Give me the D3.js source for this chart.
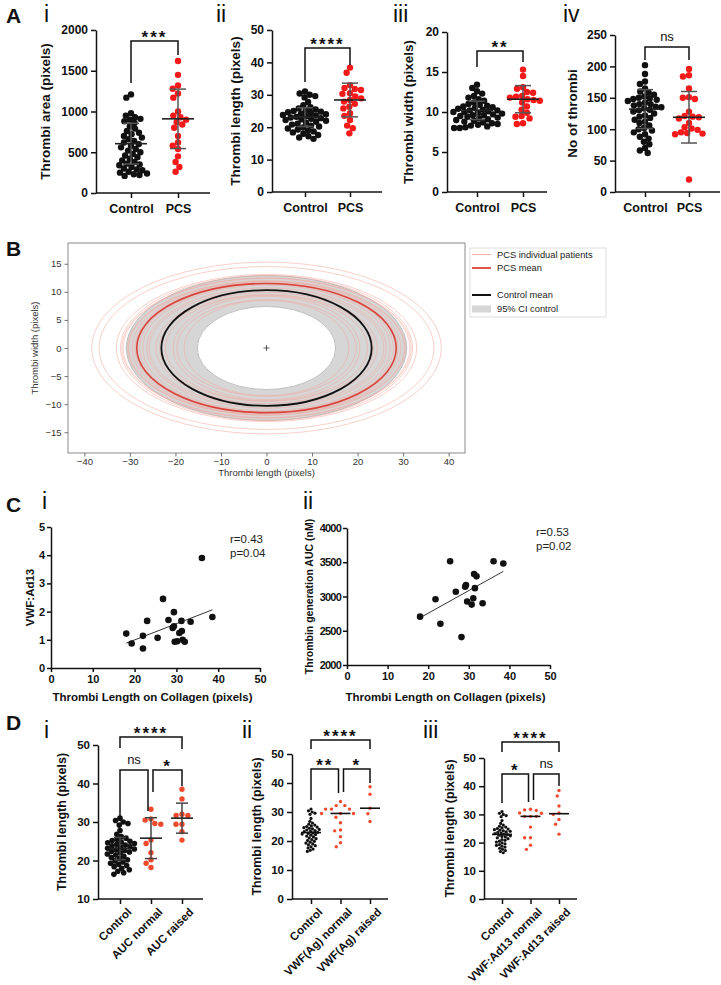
<!DOCTYPE html>
<html><head><meta charset="utf-8">
<script src="https://cdn.jsdelivr.net/npm/d3@7"></script>
<style>
body{margin:0;background:#fff}
svg{display:block}
text{font-family:"Liberation Sans",Arial,sans-serif}
</style>
</head><body>
<svg id="c" width="721" height="985"></svg>
<script>
// ===================== DATA =====================
// Panel A
const groupsA = ["Control", "PCS"];
const controlArea = [1210,1170,980,950,930,910,900,880,860,820,790,760,740,720,700,680,660,640,620,600,580,560,540,520,500,480,460,440,420,400,380,360,350,340,320,300,290,280,260,250,240,230,220,210];
const pcsArea = [1620,1450,1320,1280,1220,1170,1000,950,930,900,870,840,800,700,620,580,540,450,380,320,260];
const controlLength = [31.0,30.4,30.0,29.6,29.2,27.8,26.8,26.2,25.8,25.5,25.2,25.0,24.8,24.6,24.4,24.2,24.0,23.8,23.6,23.4,23.2,23.0,22.8,22.6,22.4,22.2,22.0,21.7,21.4,21.1,20.8,20.5,20.2,19.9,19.6,19.3,19.0,18.7,18.4,18.0,17.6,17.2,16.8,16.4];
const pcsLength = [38.4,36.8,33.0,32.1,31.8,31.5,30.5,30.3,29.5,28.9,28.4,27.9,27.2,26.3,25.8,24.3,23.5,22.2,20.5,19.7,18.1];
const controlWidth = [13.4,13.0,12.6,12.3,12.0,11.8,11.6,11.4,11.2,11.0,10.9,10.8,10.7,10.6,10.5,10.4,10.3,10.2,10.1,10.0,10.0,9.9,9.8,9.7,9.6,9.5,9.4,9.3,9.2,9.1,9.0,8.9,8.8,8.7,8.6,8.5,8.4,8.3,8.2,8.1,8.0,8.0,9.6,10.2];
const pcsWidth = [15.3,14.5,13.1,12.9,12.5,12.4,12.0,11.9,11.8,11.6,11.5,11.4,11.2,10.7,10.3,9.9,9.5,9.4,9.2,8.6,8.5];
const controlCount = [202,188,176,172,165,160,158,155,152,150,149,148,147,145,142,140,138,136,135,133,131,130,128,125,122,120,118,115,112,110,106,102,100,98,95,92,88,85,80,76,70,66,62,140];
const pcsCount = [196,186,184,165,151,150,148,128,121,120,119,117,110,103,101,99,95,94,93,92,20];
const areaMean = [605, 910], areaSD = [250, 365];
const lengthMean = [23.1, 28.4], lengthSD = [2.9, 5.2];
const widthMean = [10.2, 11.6], widthSD = [1.15, 1.7];
const countMean = [132, 119], countSD = [31, 41];
const sigA = ["***", "****", "**", "ns"];
const ticksArea = [0,500,1000,1500,2000];
const ticksLength = [0,10,20,30,40,50];
const ticksWidth = [0,5,10,15,20];
const ticksCount = [0,50,100,150,200,250];

// Panel B (ellipse semi-axes: [length, width])
const controlEllipse = [23.1, 10.3];
const ciOuter = [30.8, 12.9];
const ciInner = [15.2, 7.4];
const pcsMeanEllipse = [28.5, 11.5];
const ellipseTicksX = [-40,-30,-20,-10,0,10,20,30,40];
const ellipseTicksY = [-15,-10,-5,0,5,10,15];
const legendLabels = ["PCS individual patients", "PCS mean", "Control mean", "95% CI control"];

// Panel C
const c1Length = [18.0,19.3,22.0,22.0,23.0,25.5,26.8,28.1,29.1,29.4,29.4,29.6,30.2,30.7,31.2,31.3,31.5,32.0,33.4,36.1,38.6];
const c1Vwf = [1.22,0.87,1.14,0.69,1.67,1.07,2.45,1.70,1.42,1.48,1.98,0.93,0.95,1.24,1.67,1.31,1.00,0.93,1.64,3.90,1.81];
const c2Length = [18.0,21.8,23.0,25.4,26.8,28.2,29.1,29.3,29.6,30.7,31.1,31.3,31.5,31.9,33.4,36.1,38.5];
const c2Auc = [2706,2960,2603,3515,3069,2407,3143,3167,2926,2882,2975,3328,3122,3294,2901,3515,3481];
const c1Stats = ["r=0.43", "p=0.04"];
const c2Stats = ["r=0.53", "p=0.02"];
const ticksC1Y = [0,1,2,3,4,5];
const ticksC2Y = [2000,2500,3000,3500,4000];
const ticksCX = [0,10,20,30,40,50];

// Panel D
const d1Groups = ["Control", "AUC normal", "AUC raised"];
const aucNormal = [33.3,30.8,30.5,29.6,29.4,25.3,24.4,22.0,20.2,19.3,18.2];
const aucRaised = [38.5,36.0,31.7,31.7,32.0,29.4,29.4,27.5,25.3];
const d1Mean = [23.1, 25.8, 31.0], d1SD = [2.9, 5.3, 3.9];
const d2Groups = ["Control", "VWF(Ag) normal", "VWF(Ag) raised"];
const vwfAgNormal = [33.6,32.2,32.2,31.0,31.0,31.0,29.5,29.5,29.5,28.2,26.3,23.8,23.5,21.5,19.4,18.0];
const vwfAgRaised = [38.7,36.1,31.3,29.4,26.7];
const d3Groups = ["Control", "VWF:Ad13 normal", "VWF:Ad13 raised"];
const vwfAd13Normal = [31.8,31.6,31.4,30.5,30.4,29.3,29.3,29.3,25.5,21.7,21.7,19.1,17.6];
const vwfAd13Raised = [38.5,36.5,33.0,30.5,30.0,28.2,26.5,23.0];
const d1Sig = ["****", "ns", "*"];
const d2Sig = ["****", "**", "*"];
const d3Sig = ["****", "*", "ns"];
const ticksD1 = [10,20,30,40,50];
const ticksD = [0,10,20,30,40,50];

// ===================== DRAWING =====================
const svg = d3.select("#c");
const RED_A = "#f41a1a", RED_D = "#f04a2e";

function label(x, y, t, size, weight) {
  svg.append("text").attr("x", x).attr("y", y).attr("font-size", size)
    .attr("font-weight", weight || "normal").attr("fill", "#111").text(t);
}
[["A",6,23],["B",6,256],["C",6,512],["D",6,730]].forEach(d => label(d[1], d[2], d[0], 21, "bold"));
[["i",44,22],["ii",216,22],["iii",393,22],["iv",563,22],
 ["i",42,509],["ii",303,509],["i",44,738],["ii",242,738],["iii",423,738]].forEach(d => label(d[1], d[2], d[0], 23, "normal"));

function beeswarm(vals, y, r, gap) {
  const D = 2 * r + gap;
  const placed = [];
  const order = vals.map(v => ({ v, y: y(v) })).sort((a, b) => a.y - b.y);
  for (const p of order) {
    const near = placed.filter(q => Math.abs(q.y - p.y) < D);
    const cands = [0];
    near.forEach(q => { const dx = Math.sqrt(D * D - (q.y - p.y) ** 2); cands.push(q.x + dx, q.x - dx); });
    cands.sort((a, b) => Math.abs(a) - Math.abs(b) || a - b);
    let best = 0;
    for (const c of cands) {
      if (near.every(q => (q.x - c) ** 2 + (q.y - p.y) ** 2 >= D * D - 0.01)) { best = c; break; }
    }
    p.x = best; placed.push(p);
  }
  return placed;
}

function styleAxis(g, size) {
  g.selectAll("path,line").attr("stroke", "#111").attr("stroke-width", 1.5);
  g.selectAll("text").attr("font-size", size).attr("font-weight", "bold").attr("fill", "#111")
    .attr("font-family", "'Liberation Sans',Arial,sans-serif");
}

function bracket(g, x1, x2, yTop, yL, yR, lab) {
  g.append("path").attr("d", `M${x1},${yL}V${yTop}H${x2}V${yR}`)
    .attr("fill", "none").attr("stroke", "#111").attr("stroke-width", 1.5);
  const isStar = lab.indexOf("*") >= 0;
  g.append("text").attr("x", (x1 + x2) / 2).attr("y", isStar ? yTop + 2 : yTop - 6)
    .attr("text-anchor", "middle").attr("font-size", isStar ? 17 : 13)
    .attr("font-weight", isStar ? "bold" : "normal").attr("letter-spacing", isStar ? 2 : 0)
    .attr("fill", "#111").text(lab);
}

function dotPanel(cfg) {
  const g = svg.append("g");
  const y = d3.scaleLinear().domain(cfg.domain).range([cfg.bottom, cfg.top]);
  const x = d3.scalePoint().domain(cfg.cats).range(cfg.catRange);
  const ya = g.append("g").attr("transform", `translate(${cfg.left},0)`)
    .call(d3.axisLeft(y).tickValues(cfg.ticks).tickSize(5).tickSizeOuter(0).tickPadding(3).tickFormat(d3.format("d")));
  styleAxis(ya, cfg.tickFont);
  g.append("line").attr("x1", cfg.left).attr("x2", cfg.right).attr("y1", cfg.bottom).attr("y2", cfg.bottom)
    .attr("stroke", "#111").attr("stroke-width", 1.5);
  const xa = g.append("g").attr("transform", `translate(0,${cfg.bottom})`)
    .call(d3.axisBottom(x).tickSize(5).tickSizeOuter(0).tickPadding(6));
  xa.select(".domain").remove();
  styleAxis(xa, cfg.catFont);
  if (cfg.rotate) {
    xa.selectAll("text").attr("text-anchor", "end").attr("dy", null)
      .attr("transform", "translate(4,6) rotate(-45)");
  }
  g.append("text").attr("transform", `translate(${cfg.titleX},${(cfg.top + cfg.bottom) / 2}) rotate(-90)`)
    .attr("text-anchor", "middle").attr("font-size", cfg.titleFont).attr("font-weight", "bold")
    .attr("fill", "#111").text(cfg.title);
  cfg.series.forEach((s, i) => {
    const cx = x(cfg.cats[i]);
    const pts = beeswarm(s.vals, y, s.r, s.gap);
    g.append("g").selectAll("circle").data(pts).join("circle")
      .attr("cx", d => cx + d.x).attr("cy", d => d.y).attr("r", s.r).attr("fill", s.color);
  });
  cfg.cats.forEach((c, i) => {
    const cx = x(c);
    if (cfg.mean) {
      const m = cfg.mean[i], sd = cfg.sd[i];
      const sg = g.append("g").attr("stroke", cfg.barColor).attr("stroke-width", 1.5);
      sg.append("line").attr("x1", cx).attr("x2", cx).attr("y1", y(m - sd)).attr("y2", y(m + sd));
      sg.append("line").attr("x1", cx - cfg.capHalf).attr("x2", cx + cfg.capHalf).attr("y1", y(m + sd)).attr("y2", y(m + sd));
      sg.append("line").attr("x1", cx - cfg.capHalf).attr("x2", cx + cfg.capHalf).attr("y1", y(m - sd)).attr("y2", y(m - sd));
      sg.append("line").attr("x1", cx - cfg.meanHalf).attr("x2", cx + cfg.meanHalf).attr("y1", y(m)).attr("y2", y(m))
        .attr("stroke", "#222").attr("stroke-width", 1.6);
    } else {
      const md = d3.median(cfg.series[i].vals);
      g.append("line").attr("x1", cx - cfg.meanHalf).attr("x2", cx + cfg.meanHalf).attr("y1", y(md)).attr("y2", y(md))
        .attr("stroke", "#111").attr("stroke-width", 1.6);
    }
  });
  cfg.brackets.forEach((b, i) => bracket(g, x(cfg.cats[b.a]) + (b.dxa || 0), x(cfg.cats[b.b]) + (b.dxb || 0), b.top, b.yL, b.yR, cfg.sig[i]));
}

// ---------- Panel A ----------
const aCommon = { tickFont: 12, catFont: 12.5, titleFont: 13.5, capHalf: 8, meanHalf: 16, barColor: "#555", cats: groupsA };
const blk = (v) => ({ vals: v, color: "#111", r: 3.2, gap: -0.7 });
const redA = (v) => ({ vals: v, color: RED_A, r: 3.2, gap: -0.2 });
dotPanel({ ...aCommon, left: 96, right: 210, top: 30, bottom: 193, domain: [0, 2000], ticks: ticksArea, catRange: [131, 178],
  titleX: 50, title: "Thrombi area (pixels)", series: [blk(controlArea), redA(pcsArea)], mean: areaMean, sd: areaSD,
  sig: [sigA[0]], brackets: [{ a: 0, b: 1, top: 41, yL: 83, yR: 55 }] });
dotPanel({ ...aCommon, left: 272, right: 382, top: 30, bottom: 192, domain: [0, 50], ticks: ticksLength, catRange: [305, 350],
  titleX: 240, title: "Thrombi length (pixels)", series: [blk(controlLength), redA(pcsLength)], mean: lengthMean, sd: lengthSD,
  sig: [sigA[1]], brackets: [{ a: 0, b: 1, top: 48, yL: 82, yR: 65 }] });
dotPanel({ ...aCommon, left: 447, right: 547, top: 32, bottom: 192, domain: [0, 20], ticks: ticksWidth, catRange: [477, 523],
  titleX: 413, title: "Thrombi width (pixels)", series: [blk(controlWidth), redA(pcsWidth)], mean: widthMean, sd: widthSD,
  sig: [sigA[2]], brackets: [{ a: 0, b: 1, top: 51, yL: 67, yR: 62 }] });
dotPanel({ ...aCommon, left: 615, right: 720, top: 35, bottom: 192, domain: [0, 250], ticks: ticksCount, catRange: [645, 689],
  titleX: 577, title: "No of thrombi", series: [blk(controlCount), redA(pcsCount)], mean: countMean, sd: countSD,
  sig: [sigA[3]], brackets: [{ a: 0, b: 1, top: 47, yL: 60, yR: 60 }] });

// ---------- Panel B ----------
(function () {
  const L = 68, R = 465, T = 243, B = 453;
  const bx = d3.scaleLinear().domain([-43.6, 43.6]).range([L, R]);
  const by = d3.scaleLinear().domain([-18.7, 18.7]).range([B, T]);
  const g = svg.append("g");
  const cx = bx(0), cy = by(0);
  const rxOf = a => bx(a) - bx(0), ryOf = b => by(0) - by(b);
  const ell = (a, b) => { const rx = rxOf(a), ry = ryOf(b);
    return `M${cx - rx},${cy}a${rx},${ry} 0 1,0 ${2 * rx},0a${rx},${ry} 0 1,0 ${-2 * rx},0Z`; };
  g.append("defs").append("clipPath").attr("id", "clipB").append("rect")
    .attr("x", L).attr("y", T).attr("width", R - L).attr("height", B - T);
  const pg = g.append("g").attr("clip-path", "url(#clipB)");
  pg.append("path").attr("d", ell(ciOuter[0], ciOuter[1]) + ell(ciInner[0], ciInner[1]))
    .attr("fill-rule", "evenodd").attr("fill", "#d6d6d6").attr("stroke", "#b4b4b4").attr("stroke-width", 0.8);
  pg.append("g").selectAll("path").data(d3.range(pcsLength.length)).join("path")
    .attr("d", i => ell(pcsLength[i], pcsWidth[i]))
    .attr("fill", "none").attr("stroke", "#f2a79f").attr("stroke-opacity", 0.6).attr("stroke-width", 0.9);
  pg.append("path").attr("d", ell(pcsMeanEllipse[0], pcsMeanEllipse[1])).attr("fill", "none")
    .attr("stroke", "#d8433b").attr("stroke-width", 1.6);
  pg.append("path").attr("d", ell(controlEllipse[0], controlEllipse[1])).attr("fill", "none")
    .attr("stroke", "#111").attr("stroke-width", 1.8);
  pg.append("path").attr("d", `M${cx - 3},${cy}H${cx + 3}M${cx},${cy - 3}V${cy + 3}`).attr("stroke", "#333").attr("stroke-width", 0.8);
  g.append("rect").attr("x", L).attr("y", T).attr("width", R - L).attr("height", B - T)
    .attr("fill", "none").attr("stroke", "#8a8a8a").attr("stroke-width", 1);
  const st = (sel) => { sel.select(".domain").remove();
    sel.selectAll("line").attr("stroke", "#555").attr("stroke-width", 0.8);
    sel.selectAll("text").attr("font-size", 9.5).attr("fill", "#333").attr("font-family", "'DejaVu Sans',sans-serif"); };
  g.append("g").attr("transform", `translate(${L},0)`)
    .call(d3.axisLeft(by).tickValues(ellipseTicksY).tickSize(3.5).tickPadding(3)).call(st);
  g.append("g").attr("transform", `translate(0,${B})`)
    .call(d3.axisBottom(bx).tickValues(ellipseTicksX).tickSize(3.5).tickPadding(2)).call(st);
  g.append("text").attr("transform", `translate(38,${(T + B) / 2}) rotate(-90)`).attr("text-anchor", "middle")
    .attr("font-size", 9.5).attr("fill", "#333").attr("font-family", "'DejaVu Sans',sans-serif").text("Thrombi width (pixels)");
  g.append("text").attr("x", cx).attr("y", 476).attr("text-anchor", "middle")
    .attr("font-size", 9.5).attr("fill", "#333").attr("font-family", "'DejaVu Sans',sans-serif").text("Thrombi length (pixels)");
  const lg = g.append("g");
  lg.append("rect").attr("x", 470).attr("y", 248).attr("width", 136).attr("height", 69)
    .attr("fill", "#fff").attr("stroke", "#ddd").attr("stroke-width", 1);
  const rows = [254.5, 268, 295, 309];
  const sty = [["#f5b3ab", 1], ["#d8433b", 1.8], ["#111", 2]];
  sty.forEach((s, i) => lg.append("line").attr("x1", 472).attr("x2", 491).attr("y1", rows[i]).attr("y2", rows[i])
    .attr("stroke", s[0]).attr("stroke-width", s[1]));
  lg.append("rect").attr("x", 472).attr("y", rows[3] - 3.5).attr("width", 19).attr("height", 7).attr("fill", "#d6d6d6");
  legendLabels.forEach((t, i) => lg.append("text").attr("x", 497).attr("y", rows[i] + 3.3).attr("font-size", 9.3)
    .attr("fill", "#222").attr("font-family", "'DejaVu Sans',sans-serif").text(t));
})();

// ---------- Panel C ----------
function scatterPanel(cfg) {
  const g = svg.append("g");
  const x = d3.scaleLinear().domain([0, 50]).range([cfg.left, cfg.right]);
  const y = d3.scaleLinear().domain(cfg.ydom).range([cfg.bottom, cfg.top]);
  const ya = g.append("g").attr("transform", `translate(${cfg.left},0)`)
    .call(d3.axisLeft(y).tickValues(cfg.yticks).tickSize(4).tickSizeOuter(0).tickPadding(2).tickFormat(d3.format("d")));
  styleAxis(ya, 11);
  ya.selectAll("text").attr("letter-spacing", cfg.yLetter || 0);
  const xa = g.append("g").attr("transform", `translate(0,${cfg.bottom})`)
    .call(d3.axisBottom(x).tickValues(ticksCX).tickSize(4).tickSizeOuter(0).tickPadding(3));
  styleAxis(xa, 11);
  g.append("text").attr("x", (cfg.left + cfg.right) / 2 - 3).attr("y", 701).attr("text-anchor", "middle")
    .attr("font-size", 11.5).attr("font-weight", "bold").attr("fill", "#111").text("Thrombi Length on Collagen (pixels)");
  g.append("text").attr("transform", `translate(${cfg.titleX},${(cfg.top + cfg.bottom) / 2}) rotate(-90)`)
    .attr("text-anchor", "middle").attr("font-size", cfg.titleFont).attr("font-weight", "bold").attr("fill", "#111").text(cfg.title);
  const mx = d3.mean(cfg.xs), my = d3.mean(cfg.ys);
  let sxy = 0, sxx = 0;
  cfg.xs.forEach((v, i) => { sxy += (v - mx) * (cfg.ys[i] - my); sxx += (v - mx) ** 2; });
  const b = sxy / sxx, a0 = my - b * mx;
  const [x0, x1] = d3.extent(cfg.xs);
  g.append("line").attr("x1", x(x0)).attr("x2", x(x1)).attr("y1", y(a0 + b * x0)).attr("y2", y(a0 + b * x1))
    .attr("stroke", "#333").attr("stroke-width", 1);
  g.append("g").selectAll("circle").data(cfg.xs).join("circle")
    .attr("cx", d => x(d)).attr("cy", (d, i) => y(cfg.ys[i])).attr("r", 3.3).attr("fill", "#111");
  cfg.stats.forEach((t, i) => g.append("text").attr("x", cfg.statX).attr("y", cfg.statY + i * 13.5)
    .attr("font-size", 11.5).attr("fill", "#222").text(t));
}
scatterPanel({ left: 51, right: 260, top: 527, bottom: 668, ydom: [0, 5], yticks: ticksC1Y, titleX: 34, titleFont: 11.5, title: "VWF:Ad13",
  xs: c1Length, ys: c1Vwf, stats: c1Stats, statX: 230, statY: 543 });
scatterPanel({ left: 347, right: 550, top: 528, bottom: 665, ydom: [2000, 4000], yticks: ticksC2Y, titleX: 313, titleFont: 10.5,
  yLetter: -0.8, title: "Thrombin generation AUC (nM)", xs: c2Length, ys: c2Auc, stats: c2Stats, statX: 536, statY: 536 });

// ---------- Panel D ----------
const dCommon = { tickFont: 11.5, catFont: 11.5, titleFont: 12.5, rotate: true, barColor: "#444", capHalf: 6, meanHalf: 11 };
const blkD = (v) => ({ vals: v, color: "#111", r: 2.8, gap: -0.6 });
const redD = (v) => ({ vals: v, color: RED_D, r: 2.7, gap: 0.6 });
const blkS = (v) => ({ vals: v, color: "#111", r: 1.6, gap: -0.1 });
const redS = (v) => ({ vals: v, color: RED_D, r: 1.7, gap: 2.5 });
dotPanel({ ...dCommon, left: 98, right: 203, top: 745, bottom: 899, domain: [10, 50], ticks: ticksD1, catRange: [120, 182],
  cats: d1Groups, titleX: 66, title: "Thrombi length (pixels)", series: [blkD(controlLength), redD(aucNormal), redD(aucRaised)],
  mean: d1Mean, sd: d1SD, sig: d1Sig,
  brackets: [{ a: 0, b: 2, top: 737, yL: 748, yR: 749 }, { a: 0, b: 1, dxb: -3, top: 770, yL: 817, yR: 811 },
             { a: 1, b: 2, dxa: 2, top: 770, yL: 792, yR: 786 }] });
dotPanel({ ...dCommon, meanHalf: 10, left: 292, right: 388, top: 754, bottom: 899, domain: [0, 50], ticks: ticksD, catRange: [311, 370],
  cats: d2Groups, titleX: 261, title: "Thrombi length (pixels)", series: [blkS(controlLength), redS(vwfAgNormal), redS(vwfAgRaised)],
  mean: null, sig: d2Sig,
  brackets: [{ a: 0, b: 2, top: 740, yL: 749, yR: 749 }, { a: 0, b: 1, dxb: -2, top: 769, yL: 800, yR: 793 },
             { a: 1, b: 2, dxa: 3, top: 769, yL: 792, yR: 783 }] });
dotPanel({ ...dCommon, meanHalf: 10, left: 484, right: 577, top: 758, bottom: 899, domain: [0, 50], ticks: ticksD, catRange: [502, 559],
  cats: d3Groups, titleX: 454, title: "Thrombi length (pixels)", series: [blkS(controlLength), redS(vwfAd13Normal), redS(vwfAd13Raised)],
  mean: null, sig: d3Sig,
  brackets: [{ a: 0, b: 2, top: 742, yL: 752, yR: 752 }, { a: 0, b: 1, dxb: -2, top: 774, yL: 803, yR: 802 },
             { a: 1, b: 2, dxa: 3, top: 774, yL: 800, yR: 786 }] });
</script>
</body></html>
